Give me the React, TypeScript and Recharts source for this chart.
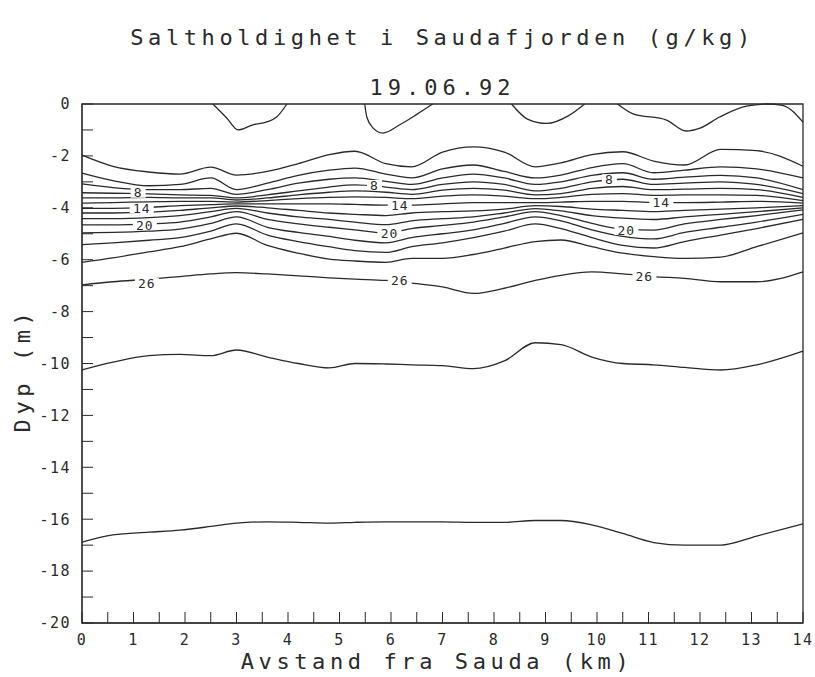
import { LineChart, Line, XAxis, YAxis, ReferenceArea, ReferenceDot } from "recharts";

// distance stations (km) shared by the continuous isolines
const stations = [0, 0.6, 1.3, 1.9, 2.5, 3.0, 3.6, 4.2, 4.8, 5.3, 5.9, 6.4, 7.0, 7.6, 8.2, 8.8, 9.3, 9.9, 10.5, 11.1, 11.7, 12.4, 13.1, 14];

// depth (m) of each isoline at the stations, top to bottom
const lineA = [-1.97, -2.4, -2.62, -2.7, -2.43, -2.74, -2.6, -2.3, -1.95, -1.82, -2.3, -2.42, -1.85, -1.65, -1.85, -2.42, -2.27, -1.95, -1.84, -2.2, -2.35, -1.75, -1.8, -2.4];
const lineB = [-2.66, -2.95, -3.15, -3.1, -2.85, -3.3, -3.05, -2.75, -2.55, -2.47, -2.7, -2.85, -2.5, -2.35, -2.6, -2.85, -2.74, -2.45, -2.3, -2.65, -2.55, -2.42, -2.5, -2.85];
const lineC = [-3.08, -3.22, -3.3, -3.3, -3.25, -3.48, -3.3, -3.05, -2.9, -2.85, -2.98, -3.1, -2.85, -2.7, -2.85, -3.1, -3.0, -2.75, -2.65, -2.9, -2.82, -2.75, -2.85, -3.3];
const line8 = [-3.42, -3.44, -3.46, -3.5, -3.52, -3.62, -3.5, -3.35, -3.2, -3.12, -3.2, -3.3, -3.1, -3.0, -3.1, -3.35, -3.25, -3.0, -2.9, -3.1, -3.05, -3.0, -3.1, -3.45];
const line10 = [-3.62, -3.62, -3.6, -3.62, -3.62, -3.7, -3.62, -3.5, -3.4, -3.35, -3.4, -3.48, -3.32, -3.25, -3.32, -3.5, -3.45, -3.25, -3.18, -3.3, -3.28, -3.25, -3.3, -3.6];
const line12 = [-3.82, -3.8, -3.77, -3.75, -3.75, -3.78, -3.72, -3.65, -3.6, -3.58, -3.6, -3.65, -3.55, -3.5, -3.55, -3.65, -3.6, -3.48, -3.45, -3.52, -3.5, -3.5, -3.52, -3.72];
const line14 = [-4.02, -4.02, -3.98, -3.92, -3.88, -3.85, -3.85, -3.85, -3.85, -3.87, -3.9, -3.9, -3.85, -3.8, -3.8, -3.8, -3.78, -3.75, -3.75, -3.8, -3.8, -3.78, -3.75, -3.82];
const line16 = [-4.2, -4.2, -4.17, -4.1, -4.0, -3.93, -4.0, -4.1, -4.2, -4.25, -4.3, -4.2, -4.15, -4.12, -4.05, -3.92, -3.95, -4.05, -4.1, -4.15, -4.1, -4.05, -4.0, -3.92];
const line18 = [-4.42, -4.42, -4.38, -4.3, -4.15, -4.02, -4.2, -4.35, -4.45, -4.55, -4.65, -4.5, -4.42, -4.35, -4.2, -4.03, -4.12, -4.3, -4.4, -4.45, -4.35, -4.25, -4.15, -4.0];
const line20 = [-4.66, -4.66, -4.62, -4.55, -4.35, -4.15, -4.45, -4.62, -4.75, -4.85, -4.97, -4.8, -4.68, -4.55, -4.35, -4.15, -4.3, -4.6, -4.82, -4.86, -4.62, -4.45, -4.3, -4.08];
const line22 = [-4.97, -4.95, -4.9, -4.82, -4.6, -4.35, -4.75, -4.95, -5.1, -5.25, -5.35, -5.15, -5.0, -4.85, -4.6, -4.35, -4.5, -4.85, -5.1, -5.2, -4.95, -4.75, -4.55, -4.25];
const line24 = [-5.42, -5.35, -5.25, -5.15, -4.9, -4.62, -5.05, -5.3, -5.5, -5.65, -5.72, -5.5, -5.35, -5.15, -4.9, -4.62, -4.8, -5.15, -5.45, -5.55, -5.3, -5.05, -4.8, -4.45];
const line25 = [-6.1, -5.93, -5.7, -5.5, -5.2, -4.98, -5.45, -5.75, -5.98, -6.05, -6.1, -5.95, -5.95, -5.8, -5.55, -5.3, -5.24, -5.5, -5.75, -5.88, -5.95, -5.9, -5.5, -4.97];
const line26 = [-6.97, -6.85, -6.75, -6.65, -6.55, -6.5, -6.55, -6.62, -6.7, -6.75, -6.8, -6.9, -7.05, -7.3, -7.1, -6.8, -6.6, -6.47, -6.55, -6.65, -6.72, -6.85, -6.85, -6.47];
const line28 = [-10.25, -9.95, -9.7, -9.65, -9.7, -9.48, -9.75, -10.0, -10.17, -10.0, -10.02, -10.05, -10.08, -10.2, -9.9, -9.2, -9.27, -9.75, -10.0, -10.05, -10.15, -10.25, -10.05, -9.52];
const line30 = [-16.88, -16.6, -16.5, -16.42, -16.28, -16.15, -16.1, -16.12, -16.15, -16.12, -16.1, -16.1, -16.1, -16.12, -16.12, -16.05, -16.05, -16.22, -16.55, -16.9, -17.0, -17.0, -16.65, -16.18];

// low-salinity pockets touching the surface
const pocket1X = [2.54, 2.81, 3.03, 3.32, 3.59, 3.78, 3.98];
const pocket1Y = [0, -0.54, -1.0, -0.8, -0.69, -0.5, 0];
const pocket2X = [5.49, 5.53, 5.65, 5.84, 6.17, 6.5, 6.81];
const pocket2Y = [0, -0.5, -0.92, -1.12, -0.8, -0.4, 0];
const pocket3X = [8.34, 8.65, 9.02, 9.45, 9.76];
const pocket3Y = [0, -0.58, -0.75, -0.45, 0];
const pocket4X = [10.4, 10.7, 11.35, 11.73, 12.0, 12.38, 12.9, 13.3, 13.6, 14];
const pocket4Y = [0, -0.38, -0.62, -1.04, -0.93, -0.5, -0.08, 0, -0.05, -0.7];

// contour labels
const labelText = ["8", "8", "8", "14", "14", "14", "20", "20", "20", "26", "26", "26"];
const labelX = [1.09, 5.68, 10.24, 1.16, 6.17, 11.25, 1.22, 5.97, 10.57, 1.26, 6.17, 10.92];
const labelY = [-3.42, -3.12, -2.9, -4.02, -3.9, -3.8, -4.66, -4.97, -4.86, -6.9, -6.78, -6.63];

const xTicks = Array.from({ length: 29 }, (_, i) => i * 0.5);
const yTicks = Array.from({ length: 21 }, (_, i) => -20 + i);

const plotFont = "'DejaVu Sans Mono', monospace";
const ink = "#2a2a2a";

const bandLines = [lineA, lineB, lineC, line8, line10, line12, line14, line16, line18, line20, line22, line24, line25, line26, line28, line30];
const bandSeries = bandLines.map((depths) => stations.map((x, i) => ({ x, y: depths[i] })));
const pocketSeries = [
  [pocket1X, pocket1Y],
  [pocket2X, pocket2Y],
  [pocket3X, pocket3Y],
  [pocket4X, pocket4Y]
].map(([xs, ys]) => xs.map((x, i) => ({ x, y: ys[i] })));

function ContourLabel(props: any) {
  const { cx, cy, value } = props;
  const w = value.length * 9 + 6;
  return (
    <g>
      <rect x={cx - w / 2} y={cy - 5} width={w} height={10} fill="#fff" />
      <text x={cx} y={cy} dy="0.36em" textAnchor="middle" fontFamily={plotFont} fontSize={13} letterSpacing={1} fill={ink}>
        {value}
      </text>
    </g>
  );
}

export default function App() {
  return (
    <div style={{ position: "absolute", left: 0, top: 0, width: 815, height: 677, background: "#fff", fontFamily: plotFont, color: ink }}>
      <div style={{ position: "absolute", left: 82, width: 721, top: 25, textAlign: "center", fontSize: 22, lineHeight: "26px", letterSpacing: 4.6, whiteSpace: "nowrap" }}>
        Saltholdighet i Saudafjorden (g/kg)
      </div>
      <div style={{ position: "absolute", left: 82, width: 721, top: 75, textAlign: "center", fontSize: 22, lineHeight: "26px", letterSpacing: 5 }}>
        19.06.92
      </div>
      <div style={{ position: "absolute", left: 22, top: 370, transform: "translate(-50%, -50%) rotate(-90deg)", fontSize: 22, letterSpacing: 4.6, whiteSpace: "nowrap" }}>
        Dyp (m)
      </div>
      <div style={{ position: "absolute", left: 82, width: 710, top: 649, textAlign: "center", fontSize: 22, lineHeight: "26px", letterSpacing: 4.6, whiteSpace: "nowrap" }}>
        Avstand fra Sauda (km)
      </div>
      <LineChart width={815} height={677} margin={{ top: 104, right: 12, bottom: 24, left: 0 }} style={{ position: "absolute", left: 0, top: 0 }}>
        <XAxis
          type="number"
          dataKey="x"
          domain={[0, 14]}
          ticks={xTicks}
          interval={0}
          height={30}
          tickSize={-11}
          tickMargin={22}
          stroke={ink}
          tick={{ fill: ink, fontSize: 15, fontFamily: plotFont, letterSpacing: 1.5 }}
          tickFormatter={(v: number) => (Number.isInteger(v) ? String(v) : "")}
        />
        <YAxis
          type="number"
          domain={[-20, 0]}
          ticks={yTicks}
          interval={0}
          width={82}
          tickSize={-11}
          tickMargin={22}
          stroke={ink}
          tick={{ fill: ink, fontSize: 15, fontFamily: plotFont, letterSpacing: 1.5 }}
          tickFormatter={(v: number) => (v % 2 === 0 ? String(v) : "")}
        />
        <ReferenceArea x1={0} x2={14} y1={-20} y2={0} fill="none" stroke={ink} strokeWidth={1.3} ifOverflow="visible" />
        {bandSeries.map((data, i) => (
          <Line key={`band-${i}`} data={data} dataKey="y" type="monotone" stroke={ink} strokeWidth={1.3} dot={false} activeDot={false} isAnimationActive={false} />
        ))}
        {pocketSeries.map((data, i) => (
          <Line key={`pocket-${i}`} data={data} dataKey="y" type="monotone" stroke={ink} strokeWidth={1.3} dot={false} activeDot={false} isAnimationActive={false} />
        ))}
        {labelText.map((t, i) => (
          <ReferenceDot key={`lab-${i}`} x={labelX[i]} y={labelY[i]} r={0} ifOverflow="visible" shape={(p: any) => <ContourLabel {...p} value={t} />} />
        ))}
      </LineChart>
    </div>
  );
}
